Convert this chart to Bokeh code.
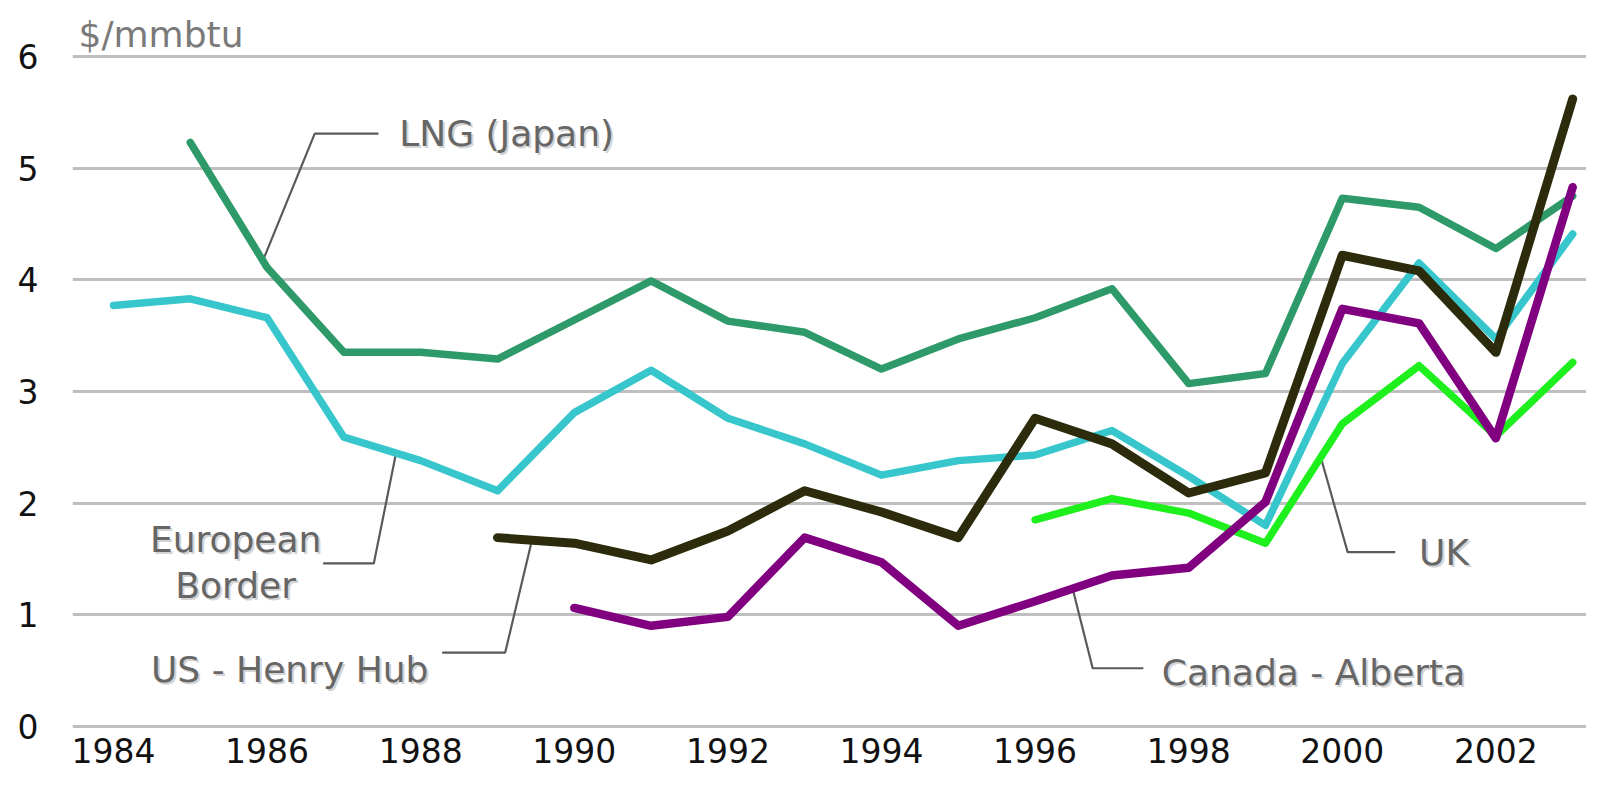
from bokeh.plotting import figure
from bokeh.models import Range1d, FixedTicker, Label
from bokeh.embed import file_html
from bokeh.resources import INLINE

# ---------------- data ----------------
years_lng = list(range(1985, 2004))
lng_japan = [5.23, 4.11, 3.35, 3.35, 3.29, 3.64, 3.99, 3.63, 3.53, 3.20,
             3.47, 3.66, 3.92, 3.07, 3.16, 4.73, 4.65, 4.28, 4.75]

years_eu = list(range(1984, 2004))
european_border = [3.77, 3.83, 3.66, 2.59, 2.38, 2.11, 2.81, 3.19, 2.76, 2.53,
                   2.25, 2.38, 2.43, 2.65, 2.24, 1.80, 3.25, 4.15, 3.47, 4.41]

years_hh = list(range(1989, 2004))
us_henry_hub = [1.69, 1.64, 1.49, 1.75, 2.11, 1.92, 1.69, 2.76, 2.53, 2.09,
                2.27, 4.22, 4.08, 3.35, 5.62]

years_ca = list(range(1990, 2004))
canada_alberta = [1.06, 0.90, 0.98, 1.69, 1.47, 0.90, 1.12, 1.35, 1.42, 2.01,
                  3.74, 3.61, 2.58, 4.83]

years_uk = list(range(1996, 2004))
uk = [1.85, 2.04, 1.91, 1.64, 2.71, 3.23, 2.60, 3.26]

x_ticks = [1984, 1986, 1988, 1990, 1992, 1994, 1996, 1998, 2000, 2002]
y_ticks = [0, 1, 2, 3, 4, 5, 6]
unit_label = "$/mmbtu"

# callout labels: (text, x, y, align) and their leader lines
callouts = [
    ("LNG (Japan)", 1987.72, 5.31, "left"),
    ("European", 1985.59, 1.67, "center"),
    ("Border", 1985.59, 1.26, "center"),
    ("US - Henry Hub", 1988.10, 0.51, "right"),
    ("Canada - Alberta", 1997.65, 0.48, "left"),
    ("UK", 2001.00, 1.56, "left"),
]
leaders = [
    ([1985.95, 1986.62, 1987.45], [4.18, 5.31, 5.31]),
    ([1987.68, 1987.39, 1986.73], [2.45, 1.46, 1.46]),
    ([1989.45, 1989.10, 1988.28], [1.67, 0.66, 0.66]),
    ([1996.49, 1996.75, 1997.41], [1.23, 0.52, 0.52]),
    ([1999.72, 2000.07, 2000.69], [2.41, 1.56, 1.56]),
]

FONT = "DejaVu Sans"

p = figure(frame_width=1514, frame_height=711, output_backend="svg",
           toolbar_location=None,
           x_range=Range1d(1983.466, 2003.18), y_range=Range1d(-0.02, 6.35),
           min_border_left=72, min_border_right=0, min_border_top=17,
           min_border_bottom=47)
p.outline_line_color = None
p.background_fill_color = "white"
p.border_fill_color = "white"

p.xgrid.grid_line_color = None
p.ygrid.grid_line_color = "#bfbfbf"
p.ygrid.grid_line_width = 3
p.ygrid.ticker = FixedTicker(ticks=y_ticks)

p.xaxis.ticker = FixedTicker(ticks=x_ticks)
p.yaxis.ticker = FixedTicker(ticks=y_ticks)
for ax in (p.xaxis[0], p.yaxis[0]):
    ax.axis_line_color = None
    ax.major_tick_line_color = None
    ax.minor_tick_line_color = None
    ax.major_tick_in = 0
    ax.major_tick_out = 0
    ax.minor_tick_in = 0
    ax.minor_tick_out = 0
    ax.major_label_text_font = FONT
    ax.major_label_text_font_size = "33px"
    ax.major_label_text_color = "#111111"
    ax.major_label_text_line_height = 1.0
p.yaxis.major_label_standoff = 34
p.xaxis.major_label_standoff = 9

# leader lines
for xs, ys in leaders:
    p.line(xs, ys, line_color="#5a5a5a", line_width=2.2)

# series
p.line(years_lng, lng_japan, line_color="#2e9a6a", line_width=7.5,
       line_join="round", line_cap="round")
p.line(years_eu, european_border, line_color="#36c6cc", line_width=7.5,
       line_join="round", line_cap="round")
p.line(years_uk, uk, line_color="#1ef01e", line_width=7.5,
       line_join="round", line_cap="round")
p.line(years_ca, canada_alberta, line_color="#800080", line_width=8.5,
       line_join="round", line_cap="round")
p.line(years_hh, us_henry_hub, line_color="#2c2c0c", line_width=9,
       line_join="round", line_cap="round")

# callout texts with soft shadow
for txt, x, y, align in callouts:
    p.add_layout(Label(x=x, y=y, text=txt, text_align=align, text_baseline="middle",
                       x_offset=2, y_offset=-2, text_font=FONT, text_font_size="36px",
                       text_color="#d4d4d4"))
    p.add_layout(Label(x=x, y=y, text=txt, text_align=align, text_baseline="middle",
                       text_font=FONT, text_font_size="36px", text_color="#666666"))

p.add_layout(Label(x=1983.544, y=6.20, text=unit_label, text_align="left",
                   text_baseline="middle", text_font=FONT, text_font_size="36px",
                   text_color="#7a7a7a"))

open("out.html", "w").write(file_html(p, INLINE))
